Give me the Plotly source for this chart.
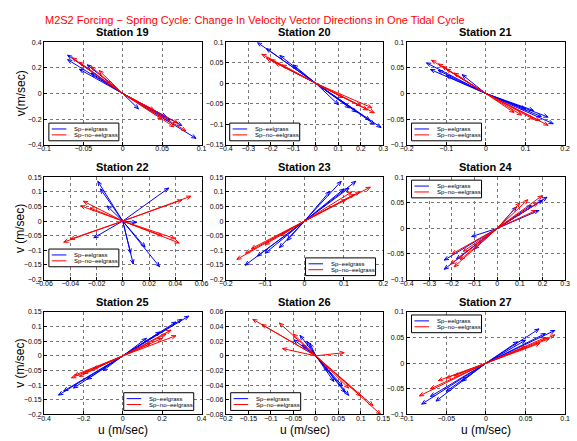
import math
import plotly.graph_objects as go

# endpoints of the velocity vectors (u, v) in m/sec
st19_eel_u = [-0.070, -0.070, -0.045, -0.040, -0.055, 0.020, 0.060, 0.093, 0.075, 0.055]
st19_eel_v = [0.300, 0.265, 0.225, 0.160, 0.190, -0.120, -0.210, -0.350, -0.250, -0.180]
st19_no_u = [-0.064, -0.055, -0.030, -0.020, -0.040, 0.040, 0.080, 0.065, 0.050, 0.070]
st19_no_v = [0.280, 0.245, 0.180, 0.100, 0.210, -0.130, -0.290, -0.260, -0.200, -0.230]

st20_eel_u = [-0.26, -0.22, -0.16, -0.10, 0.10, 0.18, 0.24, 0.29, 0.26, 0.15]
st20_eel_v = [0.100, 0.085, 0.068, 0.045, -0.052, -0.070, -0.090, -0.108, -0.100, -0.060]
st20_no_u = [-0.24, -0.20, -0.22, -0.15, -0.18, 0.12, 0.20, 0.26, 0.23, 0.25]
st20_no_v = [0.071, 0.058, 0.062, 0.045, 0.050, -0.035, -0.055, -0.072, -0.065, -0.060]

st21_eel_u = [-0.150, -0.140, -0.120, -0.060, -0.100, 0.170, 0.157, 0.120, 0.140, 0.100]
st21_eel_v = [0.060, 0.047, 0.045, 0.037, 0.035, -0.059, -0.046, -0.033, -0.045, -0.030]
st21_no_u = [-0.137, -0.120, -0.100, -0.080, -0.110, 0.157, 0.136, 0.071, 0.120, 0.090]
st21_no_v = [0.065, 0.058, 0.048, 0.040, 0.053, -0.062, -0.053, -0.037, -0.050, -0.042]

st22_eel_u = [-0.019, -0.017, -0.012, 0.035, -0.022, 0.008, 0.006, 0.028, 0.017, 0.0105]
st22_eel_v = [0.136, 0.110, 0.052, 0.113, -0.057, -0.147, -0.110, -0.156, -0.089, -0.005]
st22_no_u = [0.052, 0.045, -0.030, -0.032, -0.045, -0.040, 0.043, 0.040, 0.030, -0.025]
st22_no_v = [0.085, 0.072, 0.068, 0.052, -0.072, -0.062, -0.075, -0.060, -0.050, 0.045]

st23_eel_u = [0.093, 0.130, 0.113, 0.064, 0.100, -0.151, -0.120, -0.064, -0.044, -0.100]
st23_eel_v = [0.136, 0.136, 0.113, 0.102, 0.110, -0.151, -0.120, -0.091, -0.066, -0.110]
st23_no_u = [0.167, 0.140, 0.126, 0.105, 0.120, -0.172, -0.135, -0.150, -0.100, -0.060]
st23_no_v = [0.116, 0.100, 0.091, 0.074, 0.100, -0.131, -0.094, -0.110, -0.080, -0.050]

st24_eel_u = [0.220, 0.200, 0.184, 0.150, 0.085, -0.234, -0.234, -0.180, -0.113, -0.100]
st24_eel_v = [0.061, 0.055, 0.035, 0.045, 0.042, -0.062, -0.080, -0.060, -0.016, -0.040]
st24_no_u = [0.199, 0.135, 0.170, 0.180, 0.100, -0.206, -0.163, -0.200, -0.150, -0.190]
st24_no_v = [0.064, 0.056, 0.035, 0.050, 0.050, -0.070, -0.061, -0.050, -0.045, -0.075]

st25_eel_u = [0.335, 0.300, 0.270, 0.190, 0.120, -0.326, -0.300, -0.250, -0.180, -0.100]
st25_eel_v = [0.136, 0.125, 0.116, 0.082, 0.060, -0.134, -0.120, -0.110, -0.080, -0.050]
st25_no_u = [0.270, 0.245, 0.200, 0.142, 0.220, -0.260, -0.245, -0.200, -0.150, -0.220]
st25_no_v = [0.069, 0.088, 0.060, 0.043, 0.075, -0.075, -0.066, -0.060, -0.045, -0.070]

st26_eel_u = [-0.035, -0.049, -0.013, -0.020, -0.030, 0.073, 0.059, 0.027, 0.040, 0.065]
st26_eel_v = [0.028, 0.022, 0.017, 0.020, 0.015, -0.054, -0.041, -0.021, -0.035, -0.050]
st26_no_u = [-0.140, -0.120, -0.081, -0.074, -0.050, 0.063, 0.144, 0.127, 0.073, 0.100]
st26_no_v = [0.050, 0.043, 0.045, 0.010, 0.030, 0.0045, -0.080, -0.068, -0.044, -0.055]

st27_eel_u = [0.067, 0.087, 0.040, 0.050, 0.075, -0.081, -0.063, -0.050, -0.070, -0.030]
st27_eel_v = [0.067, 0.064, 0.042, 0.045, 0.058, -0.080, -0.074, -0.055, -0.065, -0.035]
st27_no_u = [0.087, 0.068, 0.075, 0.050, 0.080, -0.084, -0.060, -0.050, -0.070, -0.040]
st27_no_v = [0.055, 0.039, 0.050, 0.032, 0.048, -0.064, -0.034, -0.029, -0.050, -0.025]

stations = [19, 20, 21, 22, 23, 24, 25, 26, 27]
eel = [(st19_eel_u, st19_eel_v), (st20_eel_u, st20_eel_v), (st21_eel_u, st21_eel_v),
       (st22_eel_u, st22_eel_v), (st23_eel_u, st23_eel_v), (st24_eel_u, st24_eel_v),
       (st25_eel_u, st25_eel_v), (st26_eel_u, st26_eel_v), (st27_eel_u, st27_eel_v)]
noeel = [(st19_no_u, st19_no_v), (st20_no_u, st20_no_v), (st21_no_u, st21_no_v),
         (st22_no_u, st22_no_v), (st23_no_u, st23_no_v), (st24_no_u, st24_no_v),
         (st25_no_u, st25_no_v), (st26_no_u, st26_no_v), (st27_no_u, st27_no_v)]
series_names = ["Sp\u2212eelgrass", "Sp\u2212no\u2212eelgrass"]

xranges = [(-0.1, 0.1), (-0.4, 0.3), (-0.2, 0.2), (-0.06, 0.06), (-0.2, 0.2),
           (-0.4, 0.3), (-0.4, 0.4), (-0.2, 0.15), (-0.1, 0.1)]
yranges = [(-0.4, 0.4), (-0.15, 0.1), (-0.1, 0.1), (-0.2, 0.15), (-0.2, 0.15),
           (-0.1, 0.1), (-0.2, 0.15), (-0.08, 0.06), (-0.1, 0.1)]
xdticks = [0.05, 0.1, 0.1, 0.02, 0.1, 0.1, 0.2, 0.05, 0.05]
ydticks = [0.2, 0.05, 0.05, 0.05, 0.05, 0.05, 0.05, 0.02, 0.05]

W, H = 577, 441
col_px = [(36, 198), (223, 385), (409, 572)]
row_px = [(39, 143), (176, 280), (313, 417)]
# legend box top-left corner, in page pixels
legend_px = [(41, 121), (227, 121), (414, 121), (41, 249), (305, 258),
             (414, 179), (118, 395), (228, 395), (414, 316)]
LW, LH = 72, 18
FONT = "Liberation Sans"
COLORS = ["#0000ff", "#ff0000"]


def px(x, y):
    return x / W, 1 - y / H


def vectors(us, vs, xr, yr, pw, ph):
    # lines from the origin with a small arrow head, head sized in pixels
    sx = pw / (xr[1] - xr[0])
    sy = ph / (yr[1] - yr[0])
    xs, ys = [], []
    for u, v in zip(us, vs):
        xs += [0, u, None]
        ys += [0, v, None]
        a = math.atan2(v * sy, u * sx)
        L, th = 5.0, math.radians(22)
        for s in (1, -1):
            bx = u - L * math.cos(a + s * th) / sx
            by = v - L * math.sin(a + s * th) / sy
            xs += [u, bx, None]
            ys += [v, by, None]
    return xs, ys


fig = go.Figure()
layout = dict(width=W, height=H, autosize=False, margin=dict(l=0, r=0, t=0, b=0),
              paper_bgcolor="white", plot_bgcolor="white", showlegend=False,
              font=dict(family=FONT, size=7, color="black"))
annotations = []
shapes = []

for i, st in enumerate(stations):
    r, c = divmod(i, 3)
    x0, x1 = col_px[c]
    y0, y1 = row_px[r]
    n = "" if i == 0 else str(i + 1)
    xr, yr = xranges[i], yranges[i]

    for k, (us, vs) in enumerate((eel[i], noeel[i])):
        xs, ys = vectors(us, vs, xr, yr, x1 - x0, y1 - y0)
        fig.add_trace(go.Scatter(x=xs, y=ys, mode="lines", name=series_names[k],
                                 line=dict(color=COLORS[k], width=1),
                                 xaxis="x" + n, yaxis="y" + n))

    axis_common = dict(showline=True, linecolor="black", linewidth=1, mirror=True,
                       ticks="inside", ticklen=3, tickcolor="black",
                       showgrid=True, gridcolor="#777777", griddash="dot", gridwidth=1,
                       zeroline=False, tickfont=dict(size=7, family=FONT))
    layout["xaxis" + n] = dict(axis_common, domain=[x0 / W, x1 / W], range=list(xr),
                               dtick=xdticks[i], tick0=0, anchor="y" + n, ticklabelstandoff=-3)
    layout["yaxis" + n] = dict(axis_common, domain=[1 - y1 / H, 1 - y0 / H], range=list(yr),
                               dtick=ydticks[i], tick0=0, anchor="x" + n)

    # legend box drawn by hand so it can be as compact as the original
    lx, ly = legend_px[i]
    bx0, by0 = px(lx, ly)
    bx1, by1 = px(lx + LW, ly + LH)
    shapes.append(dict(type="rect", xref="paper", yref="paper", x0=bx0, y0=by1, x1=bx1, y1=by0,
                       line=dict(color="black", width=1), fillcolor="white", layer="above"))
    for k in range(2):
        yy = ly + 6 + k * 6
        sx0, sy = px(lx + 3, yy)
        sx1, _ = px(lx + 18, yy)
        shapes.append(dict(type="line", xref="paper", yref="paper", x0=sx0, x1=sx1, y0=sy, y1=sy,
                           line=dict(color=COLORS[k], width=1), layer="above"))
        tx, ty = px(lx + 24, yy)
        annotations.append(dict(text=series_names[k], x=tx, y=ty, xref="paper", yref="paper",
                                xanchor="left", yanchor="middle", showarrow=False,
                                font=dict(size=6, family=FONT)))

    annotations.append(dict(text="<b>Station %d</b>" % st, x=(x0 + x1) / 2 / W, y=1 - (y0 - 2) / H,
                            xref="paper", yref="paper", xanchor="center", yanchor="bottom",
                            showarrow=False, font=dict(size=11, family=FONT)))

ylabels = ["v(m/sec)", "v (m/sec)", "v (m/sec)"]
for r, (y0, y1) in enumerate(row_px):
    annotations.append(dict(text=ylabels[r], x=12 / W, y=1 - (y0 + y1) / 2 / H, textangle=-90,
                            xref="paper", yref="paper", xanchor="center", yanchor="middle",
                            showarrow=False, font=dict(size=12, family=FONT)))
for c, (x0, x1) in enumerate(col_px):
    annotations.append(dict(text="u (m/sec)", x=(x0 + x1) / 2 / W, y=1 - 433 / H,
                            xref="paper", yref="paper", xanchor="center", yanchor="middle",
                            showarrow=False, font=dict(size=12, family=FONT)))

annotations.append(dict(text="M2S2 Forcing \u2212 Spring Cycle: Change In Velocity Vector Directions in One Tidal Cycle",
                        x=35 / W, y=1 - 16 / H, xref="paper", yref="paper", xanchor="left",
                        yanchor="middle", showarrow=False, font=dict(size=11, family=FONT, color="#ff0000")))

layout["annotations"] = annotations
layout["shapes"] = shapes
fig.update_layout(**layout)
fig.write_html("out.html", config={"displayModeBar": False},
               post_script="document.body.style.margin='0';")
